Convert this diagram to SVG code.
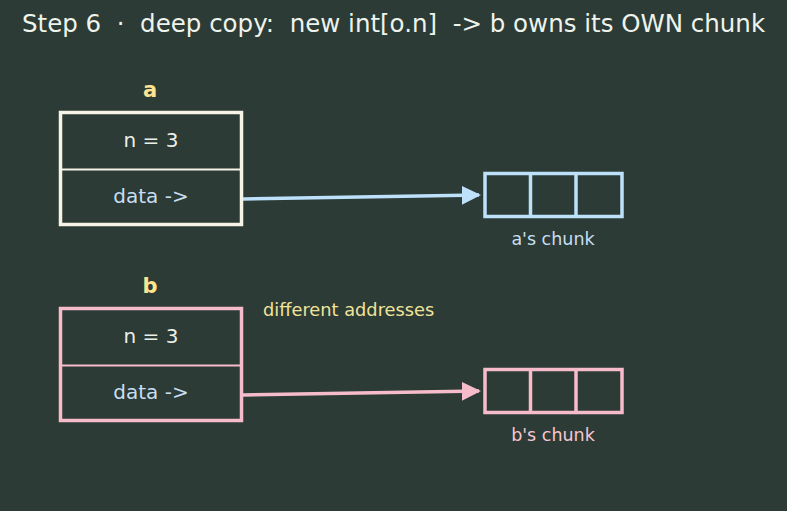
<svg xmlns="http://www.w3.org/2000/svg" width="787" height="511" viewBox="0 0 787 511">
<style>
text{font-family:"DejaVu Sans",sans-serif;}
.title{font-size:24.5px;fill:#eef3ec;white-space:pre;}
.lbl{font-size:21px;font-weight:bold;fill:#ffe391;text-anchor:middle;}
.fld{font-size:20px;fill:#eceee8;text-anchor:middle;}
.ptr{font-size:20px;fill:#c8def2;text-anchor:middle;}
.cap{font-size:17.5px;text-anchor:middle;}
.note{font-size:17.8px;fill:#f0e49a;}
.boxa{fill:none;stroke:#f6f4e6;stroke-width:3.5;}
.boxb{fill:none;stroke:#f7bccb;stroke-width:3.5;}
.diva{stroke:#f6f4e6;stroke-width:2;}
.divb{stroke:#f7bccb;stroke-width:2;}
.cha{fill:none;stroke:#bde0fb;stroke-width:3.5;}
.chb{fill:none;stroke:#f7bccb;stroke-width:3.5;}
</style>
<defs>
<marker id="ma" viewBox="0 0 10 10" refX="9" refY="5" markerWidth="5.5" markerHeight="5.5" orient="auto" markerUnits="strokeWidth"><path d="M0,0 L10,5 L0,10 z" fill="#bde0fb"/></marker>
<marker id="mb" viewBox="0 0 10 10" refX="9" refY="5" markerWidth="5.5" markerHeight="5.5" orient="auto" markerUnits="strokeWidth"><path d="M0,0 L10,5 L0,10 z" fill="#f7bccb"/></marker>
</defs>
<rect width="787" height="511" fill="#2c3b35"/>
<text class="title" x="22" y="32">Step 6  ·  deep copy:  new int[o.n]  -&gt; b owns its OWN chunk</text>
<g id="node-a">
<text class="lbl" x="150" y="97">a</text>
<rect class="boxa" x="60.5" y="112.5" width="181" height="112"/>
<line class="diva" x1="60.5" y1="169.5" x2="241.5" y2="169.5"/>
<text class="fld" x="151" y="147">n = 3</text>
<text class="ptr" x="151" y="202.5">data -&gt;</text>
</g>
<g id="node-a-chunk">
<rect class="cha" x="485" y="173.5" width="137" height="43"/>
<line class="cha" x1="530.5" y1="173.5" x2="530.5" y2="216.5"/>
<line class="cha" x1="576" y1="173.5" x2="576" y2="216.5"/>
<text class="cap" x="553" y="245" fill="#c8def2">a's chunk</text>
</g>
<g id="node-b">
<text class="lbl" x="150" y="293">b</text>
<rect class="boxb" x="60.5" y="308.5" width="181" height="112"/>
<line class="divb" x1="60.5" y1="365.5" x2="241.5" y2="365.5"/>
<text class="fld" x="151" y="343">n = 3</text>
<text class="ptr" x="151" y="398.5">data -&gt;</text>
</g>
<g id="node-b-chunk">
<rect class="chb" x="485" y="369.5" width="137" height="43"/>
<line class="chb" x1="530.5" y1="369.5" x2="530.5" y2="412.5"/>
<line class="chb" x1="576" y1="369.5" x2="576" y2="412.5"/>
<text class="cap" x="553" y="441" fill="#f7c6d2">b's chunk</text>
</g>
<g id="note">
<text class="note" x="263" y="315.5">different addresses</text>
</g>
<g id="connectors">
<line x1="243" y1="199" x2="479" y2="195" stroke="#bde0fb" stroke-width="3.5" marker-end="url(#ma)"/>
<line x1="243" y1="395" x2="479" y2="391" stroke="#f7bccb" stroke-width="3.5" marker-end="url(#mb)"/>
</g>
</svg>
